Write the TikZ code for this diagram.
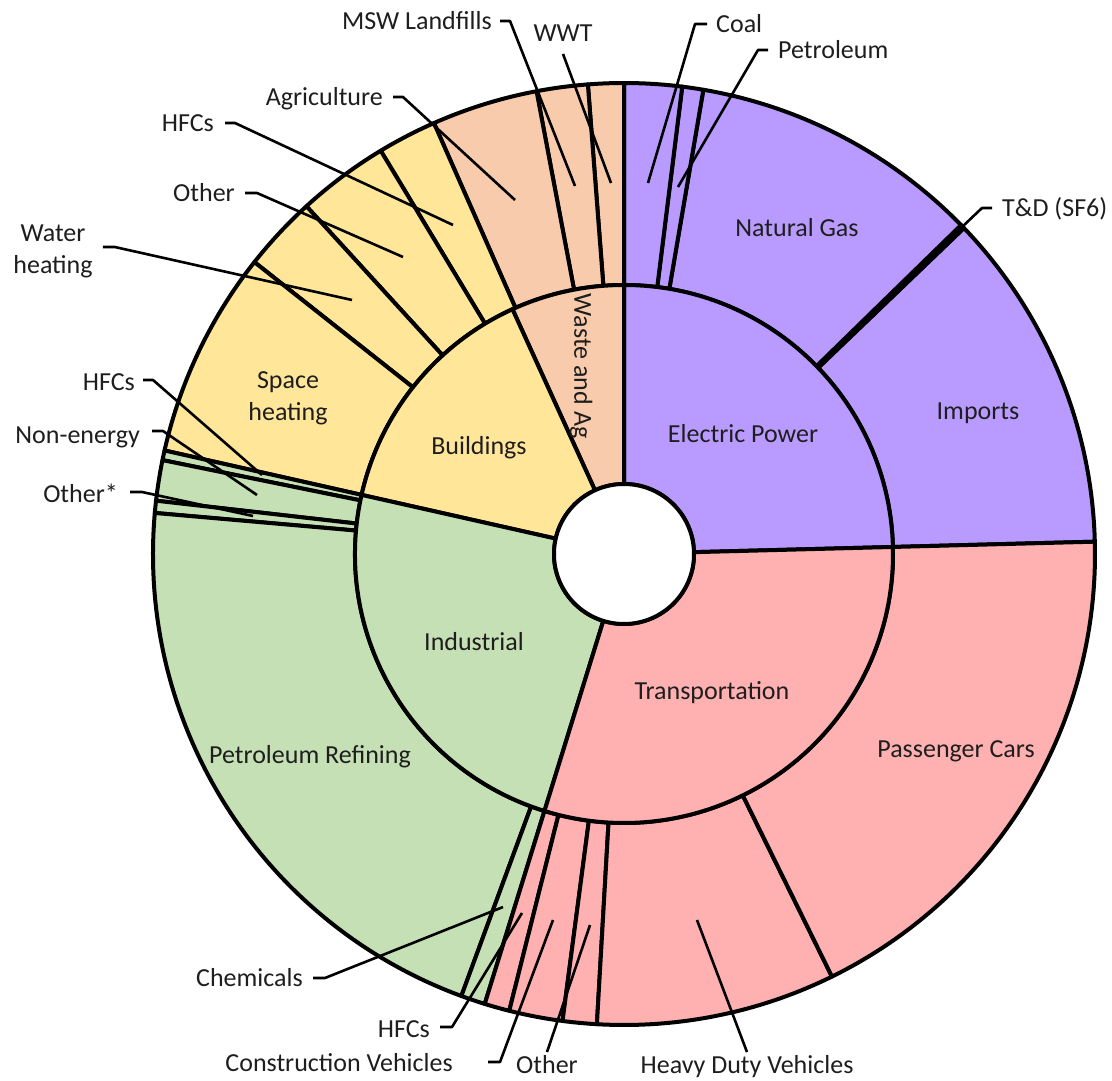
\documentclass[tikz,border=0pt]{standalone}
\usepackage{fontspec}
\setmainfont{Carlito}
\definecolor{elec}{RGB}{185,155,255}
\definecolor{trans}{RGB}{255,176,176}
\definecolor{indus}{RGB}{197,224,180}
\definecolor{build}{RGB}{255,230,153}
\definecolor{waste}{RGB}{248,203,173}
\definecolor{txt}{RGB}{30,30,30}
\newcommand{\sector}[5]{%
  \filldraw[seg, fill=#1] (#2:#4) arc[start angle=#2, end angle=#3, radius=#4]
    -- (#3:#5) arc[start angle=#3, end angle=#2, radius=#5] -- cycle;}
\begin{document}
\begin{tikzpicture}[x=1pt,y=1pt,
  seg/.style={draw=black, line width=4pt, line join=round},
  leader/.style={draw=black, line width=2.6pt, line join=round},
  lbl/.style={font=\fontsize{26}{32}\selectfont, inner sep=0pt, text=txt, text height=17.5pt, text depth=0pt},
  lbl2/.style={font=\fontsize{26}{32}\selectfont, inner sep=0pt, text=txt, align=center}]
\useasboundingbox (0,0) rectangle (1112,-1081);
\begin{scope}[shift={(624,-554)}]
  % outer ring
  \sector{elec}{1.5}{43.8}{269}{471}
  \sector{elec}{43.8}{44.3}{269}{471}
  \sector{elec}{44.3}{80.3}{269}{471}
  \sector{elec}{80.3}{82.9}{269}{471}
  \sector{elec}{82.9}{90}{269}{471}
  \sector{waste}{90}{94.4}{269}{471}
  \sector{waste}{94.4}{100.7}{269}{471}
  \sector{waste}{100.7}{113.8}{269}{471}
  \sector{build}{113.8}{121.1}{269}{471}
  \sector{build}{121.1}{132.4}{269}{471}
  \sector{build}{132.4}{141.7}{269}{471}
  \sector{build}{141.7}{167.3}{269}{471}
  \sector{indus}{167.3}{168.5}{269}{471}
  \sector{indus}{168.5}{173.5}{269}{471}
  \sector{indus}{173.5}{175.0}{269}{471}
  \sector{indus}{175.0}{249.8}{269}{471}
  \sector{indus}{249.8}{252.8}{269}{471}
  \sector{trans}{252.8}{255.9}{269}{471}
  \sector{trans}{255.9}{262.5}{269}{471}
  \sector{trans}{262.5}{266.7}{269}{471}
  \sector{trans}{266.7}{296.2}{269}{471}
  \sector{trans}{296.2}{361.5}{269}{471}
  % inner ring
  \sector{elec}{1.5}{90}{70}{269}
  \sector{waste}{90}{114.5}{70}{269}
  \sector{build}{114.5}{167.3}{70}{269}
  \sector{indus}{167.3}{252.8}{70}{269}
  \sector{trans}{252.8}{361.5}{70}{269}
  \filldraw[seg, fill=white] (0,0) circle[radius=70];
\end{scope}

% labels inside the rings
\node[lbl] (ng) at (797,-228) {Natural Gas};
\node[lbl] (imp) at (978,-411) {Imports};
\node[lbl] (ep) at (743,-434) {Electric Power};
\node[lbl] (pc) at (956,-749) {Passenger Cars};
\node[lbl] (tr) at (712,-691) {Transportation};
\node[lbl] (ind) at (474,-642) {Industrial};
\node[lbl] (pr) at (310,-755) {Petroleum Refining};
\node[lbl] (bld) at (479,-446) {Buildings};
\node[lbl2] (sh) at (288,-398) {Space\\heating};
\node[lbl, rotate=-90] (wa) at (583,-366) {Waste and Ag};

% outside labels
\node[lbl, anchor=west] (coal) at (716,-24) {Coal};
\node[lbl, anchor=west] (petr) at (778,-50) {Petroleum};
\node[lbl, anchor=west] (td) at (1002,-208) {T\&D (SF6)};
\node[lbl, anchor=east] (msw) at (492,-21) {MSW Landfills};
\node[lbl] (wwt) at (563,-33) {WWT};
\node[lbl, anchor=east] (agr) at (383,-97) {Agriculture};
\node[lbl, anchor=east] (hfcb) at (214,-123) {HFCs};
\node[lbl, anchor=east] (othb) at (235,-193) {Other};
\node[lbl2] (wh) at (53,-251) {Water\\heating};
\node[lbl, anchor=east] (hfci) at (135,-382) {HFCs};
\node[lbl, anchor=east] (nen) at (140,-435) {Non-energy};
\node[lbl, anchor=east] (oths) at (118,-494) {Other*};
\node[lbl, anchor=east] (chem) at (303,-978) {Chemicals};
\node[lbl, anchor=east] (hfct) at (430,-1029) {HFCs};
\node[lbl, anchor=east] (cv) at (453,-1063) {Construction Vehicles};
\node[lbl] (otht) at (547,-1065) {Other};
\node[lbl] (hdv) at (747,-1065) {Heavy Duty Vehicles};

% leader end points
\coordinate (coalE) at (648,-183);
\coordinate (petrE) at (678,-187);
\coordinate (tdE) at (962,-227);
\coordinate (mswE) at (575,-186);
\coordinate (wwtE) at (611,-183);
\coordinate (agrE) at (515,-200);
\coordinate (hfcbE) at (453,-225);
\coordinate (othbE) at (403,-257);
\coordinate (whE) at (352,-300);
\coordinate (hfciE) at (262,-475);
\coordinate (nenE) at (257,-495);
\coordinate (othsE) at (253,-516);
\coordinate (chemE) at (503,-907);
\coordinate (hfctE) at (522,-913);
\coordinate (cvE) at (553,-920);
\coordinate (othtE) at (590,-925);
\coordinate (hdvE) at (697,-920);

% leaders
\draw[leader] ([xshift=-9pt]coal.west) -- ++(-12,0) -- (coalE);
\draw[leader] ([xshift=-10pt]petr.west) -- ++(-10,0) -- (petrE);
\draw[leader] ([xshift=-10pt]td.west) -- ++(-10,0) -- (tdE);
\draw[leader] ([xshift=8pt]msw.east) -- ++(10,0) -- (mswE);
\draw[leader] ([yshift=-12pt]wwt.south) -- (wwtE);
\draw[leader] ([xshift=10pt]agr.east) -- ++(10,0) -- (agrE);
\draw[leader] ([xshift=11pt]hfcb.east) -- ++(10,0) -- (hfcbE);
\draw[leader] ([xshift=10pt]othb.east) -- ++(12,0) -- (othbE);
\draw[leader] ([xshift=10pt,yshift=4pt]wh.east) -- ++(12,0) -- (whE);
\draw[leader] ([xshift=8pt,yshift=2pt]hfci.east) -- ++(10,0) -- (hfciE);
\draw[leader] ([xshift=12pt,yshift=4pt]nen.east) -- ++(11,0) -- (nenE);
\draw[leader] ([xshift=12pt,yshift=2pt]oths.east) -- ++(12,0) -- (othsE);
\draw[leader] ([xshift=10pt]chem.east) -- ++(12,0) -- (chemE);
\draw[leader] ([xshift=10pt,yshift=2pt]hfct.east) -- ++(12,0) -- (hfctE);
\draw[leader] ([xshift=35pt,yshift=1pt]cv.east) -- ++(12,0) -- (cvE);
\draw[leader] ([yshift=4pt]otht.north) -- (othtE);
\draw[leader] ([yshift=4pt]hdv.north) -- (hdvE);
\end{tikzpicture}
\end{document}
